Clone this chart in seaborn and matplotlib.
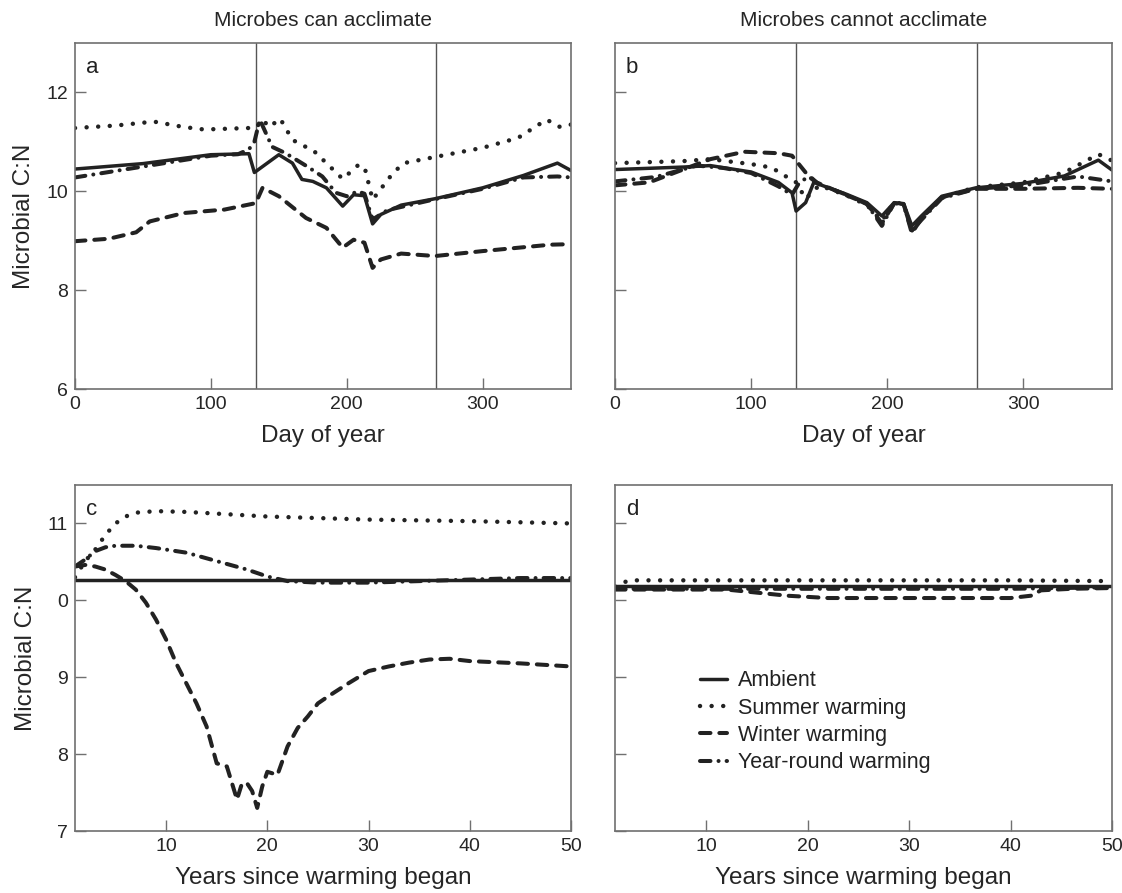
import numpy as np
import pandas as pd
import matplotlib
matplotlib.use("Agg")
import matplotlib.pyplot as plt
import seaborn as sns

# ---------------- data ----------------
# Panel a: microbes can acclimate, day of year
a_amb_x = [0, 50, 100, 128, 132, 140, 150, 160, 167, 175, 185, 197, 205, 213, 219, 225, 240, 265, 300, 330, 355, 365]
a_amb_y = [10.45, 10.56, 10.74, 10.76, 10.38, 10.54, 10.74, 10.57, 10.24, 10.2, 10.07, 9.70, 9.93, 9.91, 9.34, 9.53, 9.72, 9.85, 10.07, 10.32, 10.57, 10.42]
a_sum_x = [0, 30, 58, 80, 95, 128, 133, 138, 143, 151, 160, 176, 197, 208, 213, 219, 234, 242, 266, 300, 326, 347, 357, 365]
a_sum_y = [11.28, 11.33, 11.41, 11.3, 11.25, 11.28, 11.28, 11.45, 11.3, 11.47, 11.04, 10.81, 10.25, 10.52, 10.5, 9.83, 10.37, 10.57, 10.7, 10.88, 11.08, 11.45, 11.3, 11.35]
a_win_x = [0, 25, 45, 55, 80, 110, 133, 138, 150, 170, 185, 197, 205, 213, 219, 225, 240, 265, 300, 350, 365]
a_win_y = [8.99, 9.04, 9.17, 9.39, 9.56, 9.63, 9.76, 10.07, 9.9, 9.46, 9.26, 8.86, 9.02, 8.96, 8.45, 8.62, 8.74, 8.69, 8.79, 8.92, 8.93]
a_yr_x = [0, 50, 100, 120, 128, 132, 136, 145, 155, 171, 182, 192, 200, 208, 213, 219, 230, 265, 300, 330, 355, 365]
a_yr_y = [10.28, 10.5, 10.72, 10.75, 10.85, 11.0, 11.45, 10.9, 10.77, 10.5, 10.3, 9.97, 9.9, 10.0, 9.95, 9.43, 9.62, 9.84, 10.05, 10.28, 10.3, 10.28]

# Panel b: microbes cannot acclimate, day of year
b_amb_x = [0, 50, 70, 100, 120, 130, 133, 140, 146, 150, 170, 185, 196, 205, 212, 218, 225, 240, 265, 300, 330, 355, 365]
b_amb_y = [10.44, 10.49, 10.52, 10.39, 10.18, 9.97, 9.6, 9.77, 10.18, 10.14, 9.94, 9.77, 9.5, 9.77, 9.75, 9.3, 9.5, 9.9, 10.07, 10.16, 10.31, 10.63, 10.43]
b_sum_x = [0, 50, 70, 100, 115, 125, 133, 140, 150, 170, 185, 196, 205, 212, 218, 225, 240, 265, 300, 330, 355, 365]
b_sum_y = [10.57, 10.61, 10.65, 10.55, 10.48, 10.31, 10.18, 9.85, 10.12, 9.92, 9.72, 9.4, 9.78, 9.74, 9.2, 9.45, 9.88, 10.08, 10.18, 10.38, 10.75, 10.62]
b_win_x = [0, 25, 50, 70, 95, 120, 130, 140, 148, 170, 185, 196, 205, 212, 218, 225, 240, 265, 300, 340, 365]
b_win_y = [10.12, 10.18, 10.44, 10.65, 10.8, 10.77, 10.72, 10.38, 10.18, 9.92, 9.75, 9.35, 9.76, 9.74, 9.15, 9.45, 9.88, 10.05, 10.05, 10.07, 10.05]
b_yr_x = [0, 30, 60, 80, 100, 120, 130, 135, 142, 150, 170, 185, 196, 205, 212, 218, 225, 240, 265, 300, 340, 365]
b_yr_y = [10.2, 10.29, 10.52, 10.47, 10.37, 10.1, 9.93, 10.16, 10.3, 10.14, 9.93, 9.74, 9.3, 9.76, 9.73, 9.2, 9.42, 9.86, 10.05, 10.12, 10.3, 10.2]

# Panel c: microbes can acclimate, years since warming began
c_amb_x = [1, 50]
c_amb_y = [10.27, 10.27]
c_sum_x = [1, 2, 3, 4, 5, 6, 7, 9, 12, 20, 30, 40, 50]
c_sum_y = [10.3, 10.51, 10.66, 10.85, 11.0, 11.09, 11.14, 11.16, 11.15, 11.09, 11.05, 11.03, 11.0]
c_win_x = [1, 2, 3, 4, 5, 6, 7, 8, 9, 10, 11, 12, 13, 14, 15, 16, 17, 17.5, 18, 18.5, 19, 19.5, 20, 21, 22, 23, 24, 25, 26, 28, 30, 32, 34, 36, 38, 40, 45, 50]
c_win_y = [10.44, 10.46, 10.44, 10.4, 10.33, 10.25, 10.14, 9.97, 9.75, 9.49, 9.18, 8.92, 8.66, 8.36, 7.88, 7.84, 7.41, 7.62, 7.62, 7.52, 7.3, 7.58, 7.77, 7.73, 8.1, 8.34, 8.49, 8.66, 8.75, 8.92, 9.08, 9.14, 9.19, 9.23, 9.24, 9.21, 9.18, 9.14]
c_yr_x = [1, 2, 3, 4, 5, 7, 9, 12, 15, 18, 20, 22, 25, 30, 35, 40, 45, 50]
c_yr_y = [10.44, 10.53, 10.64, 10.69, 10.71, 10.71, 10.68, 10.62, 10.51, 10.4, 10.31, 10.25, 10.23, 10.23, 10.25, 10.27, 10.29, 10.29]

# Panel d: microbes cannot acclimate, years since warming began
d_amb_x = [1, 50]
d_amb_y = [10.18, 10.18]
d_sum_x = [1, 1.5, 2.5, 10, 20, 30, 40, 50]
d_sum_y = [10.18, 10.22, 10.26, 10.26, 10.26, 10.26, 10.26, 10.25]
d_win_x = [1, 12, 15, 18, 22, 25, 40, 42, 43, 46, 50]
d_win_y = [10.14, 10.14, 10.1, 10.06, 10.03, 10.03, 10.03, 10.06, 10.13, 10.15, 10.16]
d_yr_x = [1, 20, 40, 45, 50]
d_yr_y = [10.15, 10.15, 10.15, 10.16, 10.17]

series_names = ["Ambient", "Summer warming", "Winter warming", "Year-round warming"]
panel_titles = ["Microbes can acclimate", "Microbes cannot acclimate"]
panel_letters = ["a", "b", "c", "d"]
season_lines = [133, 266]
top_yticks = [6, 8, 10, 12]
top_yticklabels = ["6", "8", "10", "12"]
bot_yticks = [7, 8, 9, 10, 11]
bot_yticklabels = ["7", "8", "9", "0", "11"]
top_xticks = [0, 100, 200, 300]
bot_xticks = [10, 20, 30, 40, 50]

# ---------------- style ----------------
sns.set_style("ticks")
plt.rcParams["font.family"] = ["Liberation Sans", "DejaVu Sans"]
INK = "#222222"
FRAME = "#707070"
LW = 2.5
styles = {
    "Ambient": dict(linestyle="-", linewidth=LW),
    "Summer warming": dict(linestyle=(0, (0.01, 2.6)), linewidth=LW + 0.7),
    "Winter warming": dict(linestyle=(0, (2.6, 2.2)), linewidth=LW + 0.4),
    "Year-round warming": dict(linestyle=(0, (2.6, 2.0, 0.01, 2.0)), linewidth=LW + 0.4),
}

fig = plt.figure(figsize=(11.22, 8.93), dpi=100)
W, H = 1122, 893


def add_ax(l, r, t, b):
    return fig.add_axes([l / W, (H - b) / H, (r - l) / W, (b - t) / H])


ax_a = add_ax(75, 571, 43, 389)
ax_b = add_ax(615, 1112, 43, 389)
ax_c = add_ax(75, 571, 485, 831)
ax_d = add_ax(615, 1112, 485, 831)

panels = {
    ax_a: [(a_amb_x, a_amb_y), (a_sum_x, a_sum_y), (a_win_x, a_win_y), (a_yr_x, a_yr_y)],
    ax_b: [(b_amb_x, b_amb_y), (b_sum_x, b_sum_y), (b_win_x, b_win_y), (b_yr_x, b_yr_y)],
    ax_c: [(c_amb_x, c_amb_y), (c_sum_x, c_sum_y), (c_win_x, c_win_y), (c_yr_x, c_yr_y)],
    ax_d: [(d_amb_x, d_amb_y), (d_sum_x, d_sum_y), (d_win_x, d_win_y), (d_yr_x, d_yr_y)],
}

LABEL_FS = 17.5
TICK_FS = 14

for ax, data in panels.items():
    for name, (xs, ys) in zip(series_names, data):
        df = pd.DataFrame({"x": xs, "y": ys})
        sns.lineplot(data=df, x="x", y="y", ax=ax, color=INK,
                     dash_capstyle="round", solid_capstyle="round",
                     label=name, legend=False, **styles[name])
    for sp in ax.spines.values():
        sp.set_color(FRAME)
        sp.set_linewidth(1.2)
    ax.tick_params(direction="in", length=8, width=1, color=FRAME,
                   labelsize=TICK_FS, pad=5, top=False, right=False)
    ax.set_xlabel("")
    ax.set_ylabel("")

for ax in (ax_a, ax_b):
    ax.set_xlim(0, 365)
    ax.set_ylim(6, 13)
    ax.set_yticks(top_yticks)
    ax.set_xticks(top_xticks)
    for v in season_lines:
        ax.axvline(v, color="#555555", linewidth=1.0, zorder=0)
    ax.set_xlabel("Day of year", fontsize=LABEL_FS, labelpad=9)
ax_a.set_yticklabels(top_yticklabels)
ax_b.set_yticklabels([])

for ax in (ax_c, ax_d):
    ax.set_xlim(1, 50)
    ax.set_ylim(7, 11.5)
    ax.set_yticks(bot_yticks)
    ax.set_xticks(bot_xticks)
    ax.set_xlabel("Years since warming began", fontsize=LABEL_FS, labelpad=9)
ax_c.set_yticklabels(bot_yticklabels)
ax_d.set_yticklabels([])

for ax in (ax_a, ax_c):
    ax.set_ylabel("Microbial C:N", fontsize=LABEL_FS, labelpad=8)

ax_a.set_title(panel_titles[0], fontsize=15, pad=12)
ax_b.set_title(panel_titles[1], fontsize=15, pad=12)

for ax, letter in zip((ax_a, ax_b, ax_c, ax_d), panel_letters):
    ax.text(0.022, 0.96, letter, transform=ax.transAxes, fontsize=16,
            ha="left", va="top", color=INK)

handles = ax_d.get_lines()[:4]
leg = ax_d.legend(handles=handles, labels=series_names, loc="upper left",
                  bbox_to_anchor=(0.171, 0.465), frameon=False, fontsize=15.5,
                  handlelength=1.25, handletextpad=0.5, labelspacing=0.3,
                  borderpad=0, borderaxespad=0)
for t in leg.get_texts():
    t.set_color(INK)

fig.savefig("out.png", dpi=100)
